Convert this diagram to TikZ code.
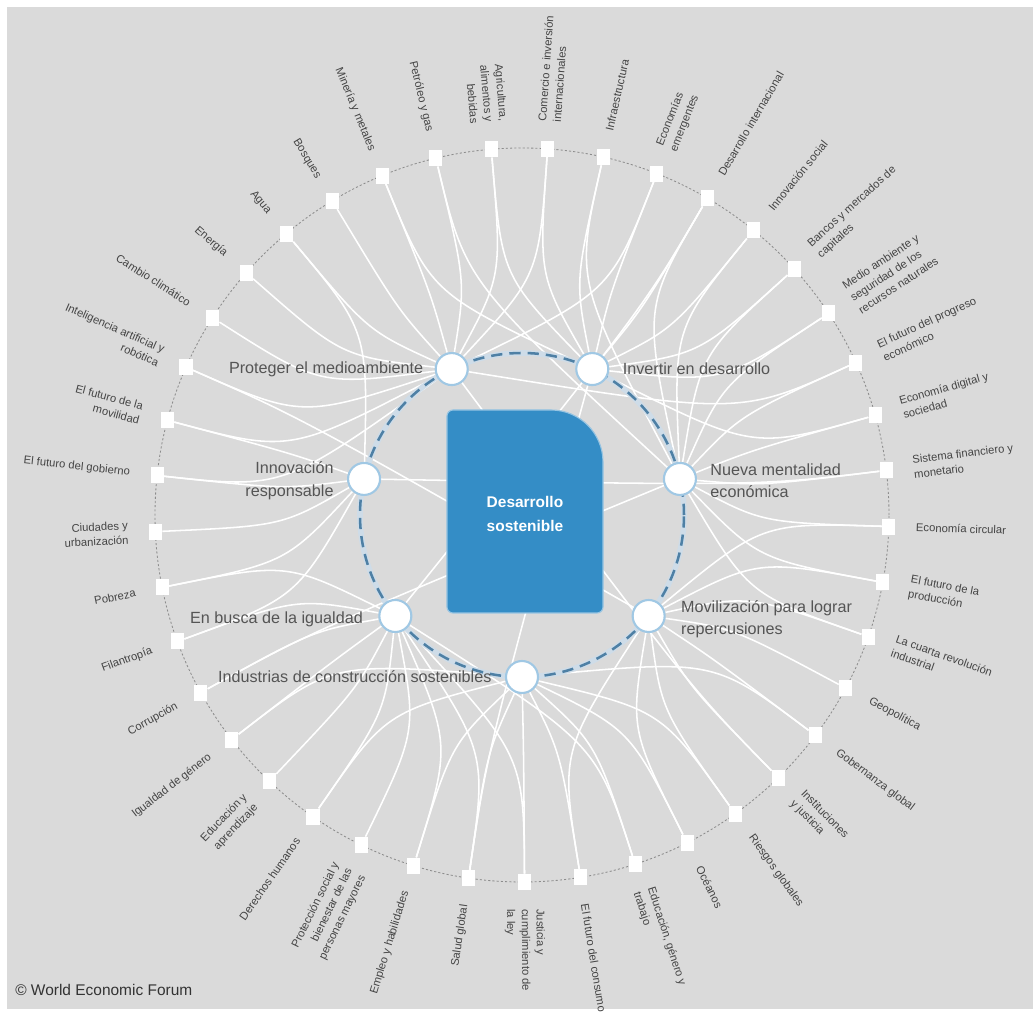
\documentclass[tikz,border=0pt]{standalone}
\usepackage{fontspec}
\setmainfont{Liberation Sans}
\definecolor{bggray}{RGB}{218,218,218}
\definecolor{wefblue}{RGB}{52,141,198}
\definecolor{wefhalo}{RGB}{150,196,226}
\definecolor{ringblue}{RGB}{78,128,165}
\definecolor{ringhalo}{RGB}{206,220,232}
\definecolor{hubline}{RGB}{160,200,228}
\definecolor{lbltext}{RGB}{68,68,68}
\definecolor{hubtext}{RGB}{85,85,85}
\definecolor{ringgray}{RGB}{140,140,140}
\pgfdeclarelayer{bg}
\pgfdeclarelayer{links}
\pgfsetlayers{bg,links,main}
\begin{document}
\begin{tikzpicture}[x=0.025cm,y=0.025cm,
  sq/.style={fill=white, minimum width=0.33cm, minimum height=0.4cm, inner sep=0},
  hub/.style={circle, fill=white, draw=hubline, line width=1.5pt, minimum size=0.8cm, inner sep=0},
  conn/.style={white, line width=1.1pt},
  lbl/.style={text=lbltext, font=\fontsize{8}{10.5}\selectfont, inner sep=0},
  hlbl/.style={text=hubtext, font=\fontsize{11.5}{16}\selectfont, inner sep=0},
]
\useasboundingbox (-522,-497) rectangle (511,515);
\begin{pgfonlayer}{bg}
  \fill[white] (-522,-497) rectangle (511,515);
  \fill[bggray] (-515,-494) rectangle (511,508);
  \draw[ringgray, line width=0.6pt, dash pattern=on 1.5pt off 1.5pt] (0,0) circle[radius=367];
\end{pgfonlayer}

% hubs
\foreach \k in {0,...,6} {
  \node[hub] (h\k) at ({-90+360/7*\k}:162) {};
}

% outer squares and labels
\foreach \i/\t in {
  0/{Comercio e inversión\\internacionales},
  1/{Infraestructura},
  2/{Economías\\emergentes},
  3/{Desarrollo internacional},
  4/{Innovación social},
  5/{Bancos y mercados de\\capitales},
  6/{Medio ambiente y\\seguridad de los\\recursos naturales},
  7/{El futuro del progreso\\económico},
  8/{Economía digital y\\sociedad},
  9/{Sistema financiero y\\monetario},
  10/{Economía circular},
  11/{El futuro de la\\producción},
  12/{La cuarta revolución\\industrial},
  13/{Geopolítica},
  14/{Gobernanza global},
  15/{Instituciones\\y justicia},
  16/{Riesgos globales},
  17/{Océanos},
  18/{Educación, género y\\trabajo},
  19/{El futuro del consumo},
  20/{Justicia y\\cumplimiento de\\la ley},
  21/{Salud global},
  22/{Empleo y habilidades},
  23/{Protección social y\\bienestar de las\\personas mayores},
  24/{Derechos humanos},
  25/{Educación y\\aprendizaje},
  26/{Igualdad de género},
  27/{Corrupción},
  28/{Filantropía},
  29/{Pobreza},
  30/{Ciudades y\\urbanización},
  31/{El futuro del gobierno},
  32/{El futuro de la\\movilidad},
  33/{Inteligencia artificial y\\robótica},
  34/{Cambio climático},
  35/{Energía},
  36/{Agua},
  37/{Bosques},
  38/{Minería y metales},
  39/{Petróleo y gas},
  40/{Agricultura,\\alimentos y\\bebidas}} {
  \pgfmathsetmacro\a{86-8.78*\i}
  \pgfmathtruncatemacro\side{cos(\a)>=0}
  \node[sq] (s\i) at (\a:367) {};
  \ifnum\side=1
    \node[lbl, rotate=\a, anchor=west, align=left] (t\i) at (\a:394) {\t};
  \else
    \node[lbl, rotate=\a+180, anchor=east, align=right] (t\i) at (\a:394) {\t};
  \fi
}

% connectors
\begin{pgfonlayer}{links}
\foreach \i/\j in {0/3,0/4,1/3,1/2,2/3,2/4,3/3,3/2,3/6,4/3,4/2,5/3,5/2,6/2,6/3,7/2,7/4,
  8/2,8/3,9/2,9/5,10/2,10/1,11/1,11/2,12/1,12/2,13/1,14/1,14/0,15/1,15/4,16/1,16/0,
  17/0,17/1,18/0,18/6,19/1,19/0,20/0,20/6,21/0,21/6,21/3,22/6,22/0,23/6,24/6,24/0,
  25/6,26/6,26/0,27/6,27/2,28/5,28/6,29/5,29/6,30/5,31/5,31/4,32/4,32/5,33/4,33/1,
  34/4,35/4,36/4,36/5,37/4,38/4,38/3,39/4,39/2,40/3,40/4} {
  \pgfmathsetmacro\a{86-8.78*\i}
  \draw[conn] (s\i) .. controls (\a:240) .. (h\j);
}
\end{pgfonlayer}

% inner dashed ring (drawn under hubs)
\begin{pgfonlayer}{links}
  \draw[ringhalo, line width=4pt] (0,0) circle[radius=162];
  \draw[ringblue, line width=1.8pt, dash pattern=on 8pt off 5pt] (0,0) circle[radius=162];
\end{pgfonlayer}

% central block
\fill[wefblue, draw=wefhalo, line width=0.8pt] (-69,-98) -- (75,-98) arc[start angle=-90,end angle=0,radius=6]
  -- (81,53) arc[start angle=0,end angle=90,radius=52] -- (-69,105)
  arc[start angle=90,end angle=180,radius=6] -- (-75,-92)
  arc[start angle=180,end angle=270,radius=6] -- cycle;
\node[text=white, align=center, font=\bfseries\fontsize{11}{17.5}\selectfont] (c) at (3,1) {Desarrollo\\sostenible};

% hub labels
\node[hlbl, anchor=east] (l4) at ([xshift=-0.28cm]h4.west) {Proteger el medioambiente};
\node[hlbl, anchor=west] (l3) at ([xshift=0.33cm]h3.east) {Invertir en desarrollo};
\node[hlbl, anchor=east, align=right] (l5) at ([xshift=-0.33cm,yshift=-0.05cm]h5.west) {Innovación\\responsable};
\node[hlbl, anchor=west, align=left] (l2) at ([xshift=0.33cm,yshift=-0.05cm]h2.east) {Nueva mentalidad\\económica};
\node[hlbl, anchor=east] (l6) at ([xshift=-0.38cm,yshift=-0.08cm]h6.west) {En busca de la igualdad};
\node[hlbl, anchor=west, align=left] (l1) at ([xshift=0.38cm,yshift=-0.08cm]h1.east) {Movilización para lograr\\repercusiones};
\node[hlbl, anchor=east] (l0) at ([xshift=-0.33cm]h0.west) {Industrias de construcción sostenibles};

\node[anchor=west, text=black!80, font=\fontsize{11}{13}\selectfont, inner sep=0] (cr) at (-507,-475) {© World Economic Forum};
\end{tikzpicture}
\end{document}
